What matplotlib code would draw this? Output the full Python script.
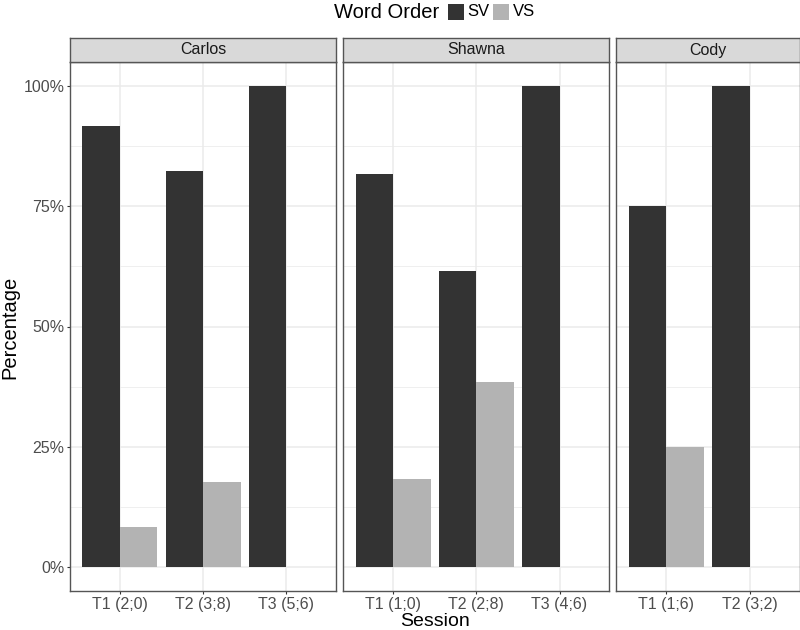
import matplotlib
matplotlib.use("Agg")
import matplotlib.pyplot as plt
from matplotlib.patches import Rectangle
import numpy as np

plt.rcParams['font.family'] = ['Liberation Sans', 'DejaVu Sans']

speakers = ["Carlos", "Shawna", "Cody"]
sessions = {
    "Carlos": ["T1 (2;0)", "T2 (3;8)", "T3 (5;6)"],
    "Shawna": ["T1 (1;0)", "T2 (2;8)", "T3 (4;6)"],
    "Cody": ["T1 (1;6)", "T2 (3;2)"],
}
sv_values = {
    "Carlos": [0.917, 0.824, 1.0],
    "Shawna": [0.818, 0.615, 1.0],
    "Cody": [0.75, 1.0],
}
vs_values = {
    "Carlos": [0.083, 0.176, 0.0],
    "Shawna": [0.182, 0.385, 0.0],
    "Cody": [0.25, 0.0],
}
y_ticks = [0, 0.25, 0.5, 0.75, 1.0]
y_ticklabels = ["0%", "25%", "50%", "75%", "100%"]
word_orders = ["SV", "VS"]
colors = {"SV": "#333333", "VS": "#b3b3b3"}

W, H = 800, 630
fig = plt.figure(figsize=(8, 6.3), dpi=100)

panel_top, panel_bot = 62, 591
strip_top = 38
left0 = 70
unit = 83.2
gap = 7

x = left0
for sp in speakers:
    n = len(sessions[sp])
    width_px = (n - 1 + 1.2) * unit
    ax = fig.add_axes([x / W, 1 - panel_bot / H, width_px / W, (panel_bot - panel_top) / H])
    pos = np.arange(n)
    bw = 0.45
    sv = sv_values[sp]
    vs = vs_values[sp]
    ax.bar(pos - bw / 2, sv, width=bw, color=colors["SV"], zorder=3)
    vs_pos = [p + bw / 2 for p, v in zip(pos, vs) if v > 0]
    vs_h = [v for v in vs if v > 0]
    ax.bar(vs_pos, vs_h, width=bw, color=colors["VS"], zorder=3)
    ax.set_xlim(-0.6, n - 1 + 0.6)
    ax.set_ylim(-0.05, 1.05)
    ax.set_xticks(pos)
    ax.set_xticklabels(sessions[sp])
    ax.set_yticks(y_ticks)
    ax.set_yticks([0.125, 0.375, 0.625, 0.875], minor=True)
    ax.grid(True, which="major", color="#ebebeb", linewidth=1.1, zorder=0)
    ax.grid(True, which="minor", axis="y", color="#ebebeb", linewidth=0.55, zorder=0)
    ax.set_axisbelow(True)
    ax.tick_params(axis="both", which="major", length=2.2, width=0.8, color="#333333",
                   labelsize=11.5, labelcolor="#4d4d4d", pad=1.8)
    ax.tick_params(axis="both", which="minor", length=0)
    if sp == speakers[0]:
        ax.set_yticklabels(y_ticklabels)
    else:
        ax.tick_params(axis="y", which="both", left=False, labelleft=False)
    for s in ax.spines.values():
        s.set_color("#555555")
        s.set_linewidth(1.0)
    # strip
    sax = fig.add_axes([x / W, 1 - panel_top / H, width_px / W, (panel_top - strip_top) / H])
    sax.set_facecolor("#d9d9d9")
    sax.set_xticks([]); sax.set_yticks([])
    for s in sax.spines.values():
        s.set_color("#555555")
        s.set_linewidth(1.0)
    sax.text(0.5, 0.5, sp, ha="center", va="center", fontsize=11.5, color="#1a1a1a",
             transform=sax.transAxes)
    x += width_px + gap

right_edge = x - gap
cx = (left0 + right_edge) / 2
fig.text(cx / W, 1 - 625.5 / H, "Session", ha="center", va="baseline", fontsize=14)
fig.text(10 / W, 1 - 327 / H, "Percentage", ha="center", va="center", rotation=90, fontsize=14.5)

# legend
ly = 12
fig.text(387 / W, 1 - ly / H, "Word Order", ha="center", va="center", fontsize=14.5)
key = 16
for lab, kx, tx in [("SV", 448, 467), ("VS", 493, 513)]:
    fig.patches.append(Rectangle((kx / W, 1 - (ly + key / 2) / H), key / W, key / H,
                                 transform=fig.transFigure, facecolor=colors[lab],
                                 edgecolor="none"))
    fig.text(tx / W, 1 - ly / H, lab, ha="left", va="center", fontsize=12)

fig.savefig("out.png", dpi=100)
